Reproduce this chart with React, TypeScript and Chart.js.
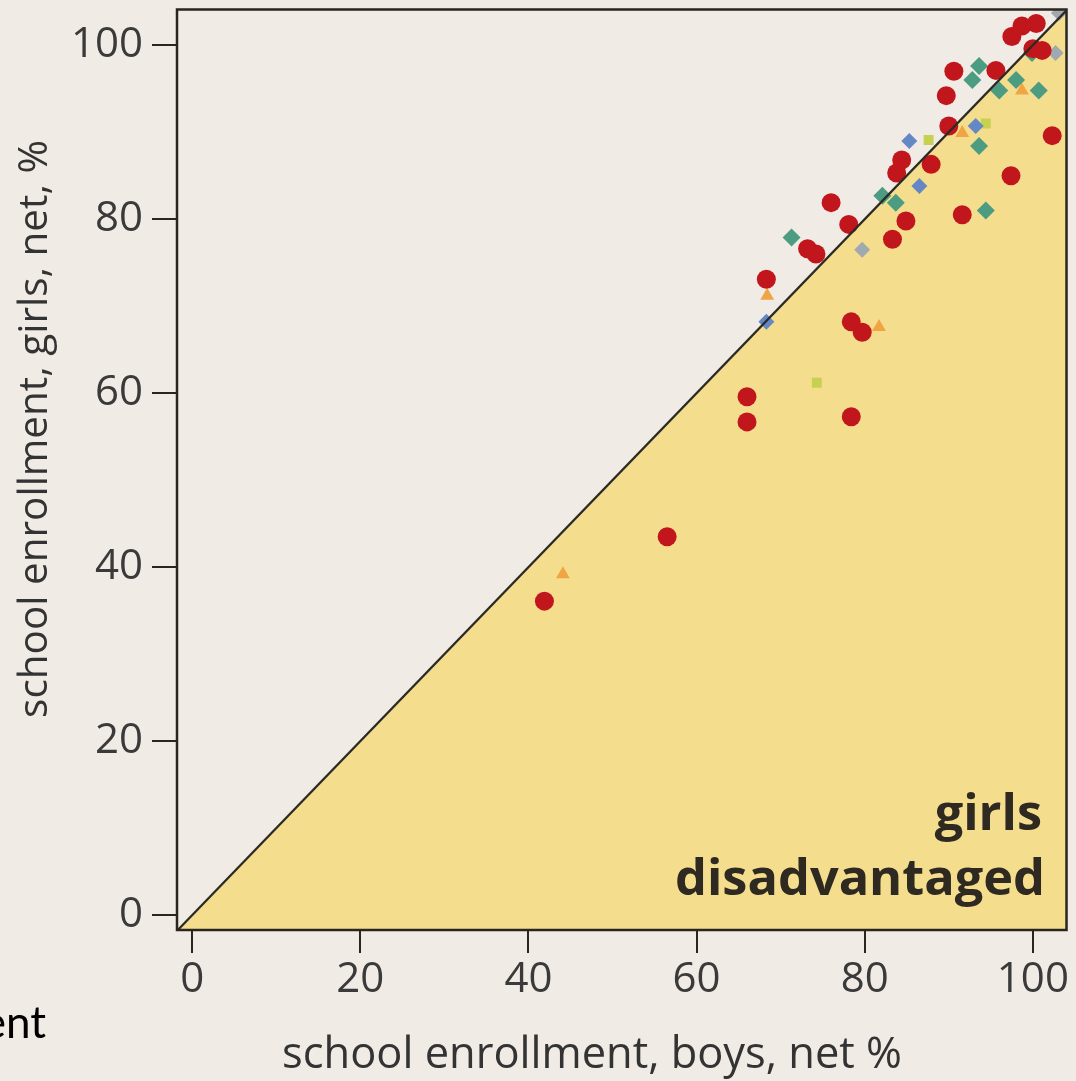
import React, { useEffect, useRef } from 'react';
import { Chart, registerables } from 'chart.js';

Chart.register(...registerables);

// ---- data ----
const xTicks = [0, 20, 40, 60, 80, 100];
const yTicks = [0, 20, 40, 60, 80, 100];
const xRange = [-1.8, 104];
const yRange = [-1.7, 104.1];

const xTitle = 'school enrollment, boys, net %';
const yTitle = 'school enrollment, girls, net, %';
const zoneLabel = ['girls', 'disadvantaged'];
const fragmentText = 'ent';

// boys %, girls %
const redCircles = [
  { x: 41.9, y: 36.1 }, { x: 56.5, y: 43.5 }, { x: 66.0, y: 59.6 }, { x: 66.0, y: 56.7 },
  { x: 78.4, y: 57.3 }, { x: 78.4, y: 68.2 }, { x: 79.7, y: 67.0 }, { x: 68.3, y: 73.1 },
  { x: 73.2, y: 76.6 }, { x: 74.2, y: 76.0 }, { x: 76.0, y: 81.9 }, { x: 78.1, y: 79.4 },
  { x: 83.3, y: 77.7 }, { x: 84.9, y: 79.8 }, { x: 83.8, y: 85.3 }, { x: 84.4, y: 86.8 },
  { x: 87.9, y: 86.3 }, { x: 90.0, y: 90.7 }, { x: 97.4, y: 85.0 }, { x: 91.6, y: 80.5 },
  { x: 102.3, y: 89.6 }, { x: 89.7, y: 94.2 }, { x: 90.6, y: 97.0 }, { x: 95.6, y: 97.1 },
  { x: 97.5, y: 101.0 }, { x: 98.7, y: 102.2 }, { x: 100.4, y: 102.5 }, { x: 101.1, y: 99.4 },
  { x: 100.0, y: 99.6 },
];
const tealDiamonds = [
  { x: 71.3, y: 77.9 }, { x: 82.1, y: 82.7 }, { x: 83.7, y: 81.9 }, { x: 93.6, y: 88.4 },
  { x: 94.4, y: 81.0 }, { x: 92.8, y: 96.0 }, { x: 93.6, y: 97.6 }, { x: 96.0, y: 94.8 },
  { x: 98.0, y: 96.0 }, { x: 100.7, y: 94.8 }, { x: 99.9, y: 99.1 },
];
const blueDiamonds = [
  { x: 68.3, y: 68.2 }, { x: 85.3, y: 89.0 }, { x: 86.5, y: 83.8 }, { x: 93.2, y: 90.7 },
];
const greyDiamonds = [
  { x: 79.7, y: 76.5 }, { x: 102.7, y: 99.1 }, { x: 103.1, y: 103.7 },
];
const orangeTriangles = [
  { x: 44.1, y: 39.2 }, { x: 81.7, y: 67.6 }, { x: 68.4, y: 71.2 }, { x: 91.6, y: 89.9 },
  { x: 98.7, y: 94.8 },
];
const limeSquares = [
  { x: 74.3, y: 61.2 }, { x: 87.6, y: 89.1 }, { x: 94.4, y: 91.0 },
];

// ---- styles ----
const PAGE_BG = '#f0ebe5';
const YELLOW = '#f5dd8e';
const DARK = '#2a251e';
const TICK_COLOR = '#3a3a3a';

function fitFont(ctx: CanvasRenderingContext2D, text: string, weight: string, family: string, width: number) {
  ctx.font = `${weight} 100px ${family}`;
  const w = ctx.measureText(text).width;
  const size = (100 * width) / w;
  return `${weight} ${size.toFixed(2)}px ${family}`;
}

const annotPlugin = {
  id: 'annot',
  afterDraw(chart: any) {
    const { ctx, chartArea: a } = chart;
    ctx.save();
    // frame
    ctx.strokeStyle = DARK;
    ctx.lineWidth = 2.5;
    ctx.strokeRect(a.left, a.top, a.right - a.left, a.bottom - a.top);

    // x title
    ctx.fillStyle = '#333333';
    ctx.font = fitFont(ctx, xTitle, '400', '"Open Sans"', 620);
    ctx.textAlign = 'center';
    ctx.textBaseline = 'alphabetic';
    ctx.fillText(xTitle, 592, 1068);

    // y title
    ctx.save();
    ctx.translate(47, 429);
    ctx.rotate(-Math.PI / 2);
    ctx.font = fitFont(ctx, yTitle, '400', '"Open Sans"', 578);
    ctx.textAlign = 'center';
    ctx.textBaseline = 'alphabetic';
    ctx.fillText(yTitle, 0, 0);
    ctx.restore();

    // zone label
    ctx.fillStyle = '#2e2a22';
    ctx.font = fitFont(ctx, zoneLabel[1], '700', '"Open Sans"', 370);
    ctx.textAlign = 'right';
    ctx.fillText(zoneLabel[0], 1042, 830);
    ctx.fillText(zoneLabel[1], 1045, 895);

    // fragment of surrounding text
    ctx.fillStyle = '#000000';
    ctx.font = '400 44px Lato';
    ctx.textAlign = 'right';
    ctx.fillText(fragmentText, 46, 1038);
    ctx.restore();
  },
};

function makeScatter(label: string, data: any[], color: string, style: string, radius: number) {
  return {
    type: 'scatter' as const,
    label,
    data,
    backgroundColor: color,
    borderColor: color,
    borderWidth: 0,
    pointStyle: style,
    pointRadius: radius,
    order: 1,
  };
}

export default function App() {
  const ref = useRef<HTMLCanvasElement | null>(null);

  useEffect(() => {
    if (!ref.current) return;
    const diag = [
      { x: xRange[0], y: xRange[0] },
      { x: xRange[1], y: xRange[1] },
    ];
    const chart = new Chart(ref.current, {
      type: 'scatter',
      data: {
        datasets: [
          {
            type: 'line',
            label: 'fill',
            data: diag,
            showLine: true,
            fill: 'start',
            backgroundColor: YELLOW,
            borderWidth: 0,
            borderColor: 'rgba(0,0,0,0)',
            pointRadius: 0,
            order: 10,
          } as any,
          makeScatter('red', redCircles, '#c2161d', 'circle', 9.5),
          makeScatter('teal', tealDiamonds, '#4c9c82', 'rectRot', 9),
          makeScatter('blue', blueDiamonds, '#6488c6', 'rectRot', 8),
          makeScatter('grey', greyDiamonds, '#a0a8b0', 'rectRot', 8),
          makeScatter('orange', orangeTriangles, '#f0a545', 'triangle', 8),
          makeScatter('lime', limeSquares, '#c8d050', 'rect', 7),
          {
            type: 'line',
            label: 'parity',
            data: diag,
            showLine: true,
            fill: false,
            borderColor: '#2b2a24',
            borderWidth: 2.2,
            pointRadius: 0,
            order: -1,
          } as any,
        ],
      },
      options: {
        animation: false,
        responsive: false,
        maintainAspectRatio: false,
        layout: { padding: { left: 0, right: 8, top: 6, bottom: 0 } },
        plugins: { legend: { display: false }, tooltip: { enabled: false } },
        scales: {
          x: {
            type: 'linear',
            min: xRange[0],
            max: xRange[1],
            afterBuildTicks: (s: any) => {
              s.ticks = xTicks.map((v) => ({ value: v }));
            },
            afterFit: (s: any) => {
              s.height = 151;
              s.paddingLeft = 0;
              s.paddingRight = 0;
            },
            ticks: {
              color: TICK_COLOR,
              font: { family: '"Open Sans"', size: 42 },
              padding: 2,
              maxRotation: 0,
              autoSkip: false,
            },
            grid: {
              display: true,
              drawOnChartArea: false,
              drawTicks: true,
              tickLength: 23,
              color: DARK,
              lineWidth: 2,
            },
            border: { display: false },
          },
          y: {
            type: 'linear',
            min: yRange[0],
            max: yRange[1],
            afterBuildTicks: (s: any) => {
              s.ticks = yTicks.map((v) => ({ value: v }));
            },
            afterFit: (s: any) => {
              s.width = 177;
              s.paddingTop = 0;
              s.paddingBottom = 0;
            },
            ticks: {
              color: TICK_COLOR,
              font: { family: '"Open Sans"', size: 42 },
              padding: 9,
              autoSkip: false,
            },
            grid: {
              display: true,
              drawOnChartArea: false,
              drawTicks: true,
              tickLength: 25,
              color: DARK,
              lineWidth: 2,
            },
            border: { display: false },
          },
        },
      },
      plugins: [annotPlugin],
    });
    return () => chart.destroy();
  }, []);

  return (
    <div style={{ position: 'fixed', left: 0, top: 0, width: 1076, height: 1081, background: PAGE_BG }}>
      <canvas ref={ref} width={1076} height={1081} style={{ display: 'block', width: 1076, height: 1081 }} />
    </div>
  );
}
